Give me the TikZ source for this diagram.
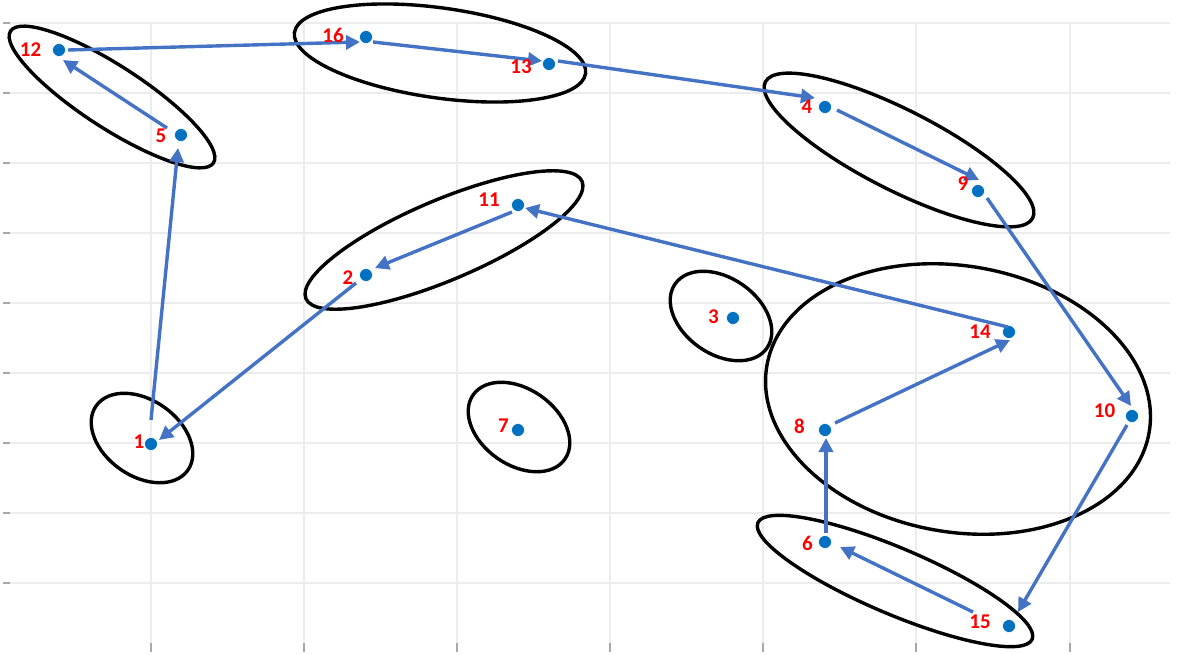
\documentclass[tikz,border=0pt]{standalone}
\usepackage{fontspec}
\setmainfont{Carlito}
\usetikzlibrary{arrows.meta,calc}
\definecolor{arrowblue}{HTML}{4472C4}
\definecolor{dotblue}{HTML}{0070C0}
\definecolor{gridgray}{HTML}{ECECEC}
\definecolor{tickgray}{HTML}{A8A8A8}
\tikzset{
  pt/.style={circle, fill=dotblue, draw=white, line width=0.6pt, inner sep=0pt, minimum size=13pt},
  lab/.style={text=red, font=\bfseries\fontsize{21}{24}\selectfont, inner sep=0pt},
  link/.style={arrowblue, line width=3.4pt, -{Triangle[length=14pt,width=14pt]}},
  group/.style={black, line width=3.4pt},
  gridline/.style={gridgray, line width=1.8pt},
  tickmark/.style={tickgray, line width=2pt}
}
\begin{document}
\begin{tikzpicture}[x=1pt,y=-1pt]
\useasboundingbox (0,0) rectangle (1180,654);
% grid
\foreach \yy in {23,93,163,233,303,373,443,513,583} {
  \draw[gridline] (10,\yy) -- (1170,\yy);
  \draw[tickmark] (3,\yy) -- (10,\yy);
}
\foreach \xx in {151,304,457,610,763,916,1070} {
  \draw[gridline] (\xx,23) -- (\xx,643);
  \draw[tickmark] (\xx,643) -- (\xx,652);
}
% groups
\draw[group, rotate around={-33:(112,97)}] (112,97) ellipse [x radius=121pt, y radius=31pt];
\draw[group, rotate around={-8:(440,53)}] (440,53) ellipse [x radius=147pt, y radius=45pt];
\draw[group, rotate around={-27:(899,150)}] (899,150) ellipse [x radius=150pt, y radius=40pt];
\draw[group, rotate around={23:(444,240)}] (444,240) ellipse [x radius=150pt, y radius=40pt];
\draw[group, rotate around={-35:(721,316)}] (721,316) ellipse [x radius=56pt, y radius=38pt];
\draw[group, rotate around={-35:(519,427)}] (519,427) ellipse [x radius=56pt, y radius=38pt];
\draw[group, rotate around={-35:(142,438)}] (142,438) ellipse [x radius=56pt, y radius=38pt];
\draw[group, rotate around={-10:(958,399)}] (958,399) ellipse [x radius=194pt, y radius=133pt];
\draw[group, rotate around={-23:(895,581)}] (895,581) ellipse [x radius=149pt, y radius=33pt];
% points
\node[pt] (p1) at (151,444) {};
\node[pt] (p2) at (366,275) {};
\node[pt] (p3) at (733,318) {};
\node[pt] (p4) at (825,107) {};
\node[pt] (p5) at (181,135) {};
\node[pt] (p6) at (825,542) {};
\node[pt] (p7) at (518,430) {};
\node[pt] (p8) at (825,430) {};
\node[pt] (p9) at (978,191) {};
\node[pt] (p10) at (1132,416) {};
\node[pt] (p11) at (518,205) {};
\node[pt] (p12) at (59,50) {};
\node[pt] (p13) at (549,64) {};
\node[pt] (p14) at (1009,332) {};
\node[pt] (p15) at (1009,626) {};
\node[pt] (p16) at (366,37) {};
% route
\draw[link] ($(p1)+(0,-24)$) -- ($(p5)+(-3,13)$);
\draw[link] ($(p5)+(-14,-7)$) -- ($(p12)+(4,10)$);
\draw[link] ($(p12)+(9,0)$) -- ($(p16)+(-6,5)$);
\draw[link] ($(p16)+(7,5)$) -- ($(p13)+(-7,-3)$);
\draw[link] ($(p13)+(9,-3)$) -- ($(p4)+(-10,-9)$);
\draw[link] ($(p4)+(12,3)$) -- ($(p9)+(1,-11)$);
\draw[link] ($(p9)+(9,7)$) -- ($(p10)+(-1,-10)$);
\draw[link] ($(p10)+(-5,9)$) -- ($(p15)+(9,-14)$);
\draw[link] ($(p15)+(-36,-14)$) -- ($(p6)+(15,5)$);
\draw[link] ($(p6)+(1,-9)$) -- ($(p8)+(1,8)$);
\draw[link] ($(p8)+(10,-7)$) -- ($(p14)+(1,8)$);
\draw[link] ($(p14)+(-1,-5)$) -- ($(p11)+(7,3)$);
\draw[link] ($(p11)+(-6,7)$) -- ($(p2)+(9,-7)$);
\draw[link] ($(p2)+(-10,8)$) -- ($(p1)+(8,-4)$);
% labels
\node[lab] (l1) at (139,442) {1};
\node[lab] (l2) at (348,278) {2};
\node[lab] (l3) at (713.5,317) {3};
\node[lab] (l4) at (807,107) {4};
\node[lab] (l5) at (161,136) {5};
\node[lab] (l6) at (807.5,543) {6};
\node[lab] (l7) at (503.5,426) {7};
\node[lab] (l8) at (799.5,426) {8};
\node[lab] (l9) at (963,184) {9};
\node[lab] (l10) at (1104.5,411) {10};
\node[lab] (l11) at (489,200) {11};
\node[lab] (l12) at (30.5,50) {12};
\node[lab] (l13) at (521,67) {13};
\node[lab] (l14) at (980,332) {14};
\node[lab] (l15) at (980,622) {15};
\node[lab] (l16) at (333,35) {16};
\end{tikzpicture}
\end{document}
